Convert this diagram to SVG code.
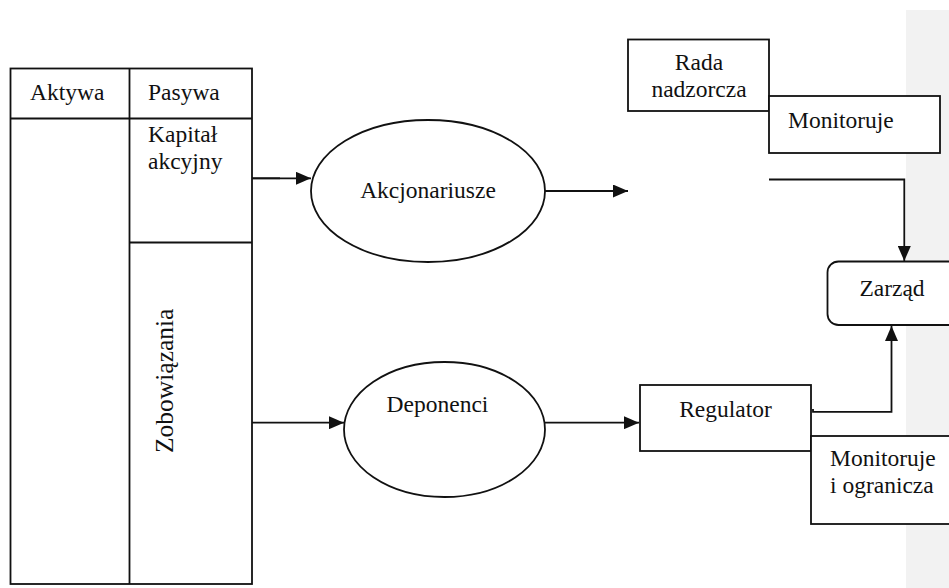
<svg xmlns="http://www.w3.org/2000/svg" width="949" height="588" viewBox="0 0 949 588">
  <style>
    .ln { fill: none; stroke: #111; stroke-width: 1.8; }
    .box { fill: #fff; stroke: #111; stroke-width: 1.8; }
    .t { font-family: "Liberation Serif", "DejaVu Serif", "Times New Roman", serif; font-size: 23.5px; fill: #111; }
    .c { text-anchor: middle; }
  </style>
  <defs>
    <marker id="arr" markerWidth="15" markerHeight="13" refX="15" refY="6.5" orient="auto" markerUnits="userSpaceOnUse">
      <path d="M0,0 L15,6.5 L0,13 Z" fill="#111"/>
    </marker>
  </defs>
  <rect x="0" y="0" width="949" height="588" fill="#fff"/>
  <rect x="906" y="10" width="43" height="578" fill="#f2f2f2"/>

  <g id="bilans">
    <rect class="ln" x="10.5" y="68.5" width="241.5" height="515.5" stroke-width="2"/>
    <line class="ln" x1="129.5" y1="68.5" x2="129.5" y2="584" stroke-width="2"/>
    <line class="ln" x1="10.5" y1="118.5" x2="252" y2="118.5" stroke-width="2"/>
    <line class="ln" x1="129.5" y1="242.5" x2="252" y2="242.5" stroke-width="2"/>
    <text class="t" x="30" y="100" font-family="Liberation Serif, serif">Aktywa</text>
    <text class="t" x="148" y="100" font-family="Liberation Serif, serif">Pasywa</text>
    <text class="t" x="148" y="142" font-family="Liberation Serif, serif">Kapitał</text>
    <text class="t" x="148" y="169" font-family="Liberation Serif, serif">akcyjny</text>
    <text class="t" transform="translate(172.5,453) rotate(-90)" style="font-size:25.5px" font-family="Liberation Serif, serif">Zobowiązania</text>
  </g>

  <g id="akcjonariusze">
    <ellipse class="box" cx="428" cy="191" rx="117" ry="71"/>
    <text class="t c" x="428" y="198" font-family="Liberation Serif, serif">Akcjonariusze</text>
  </g>

  <g id="deponenci">
    <ellipse class="box" cx="444.5" cy="429.5" rx="100.5" ry="67.5"/>
    <text class="t c" x="437.5" y="411.5" font-family="Liberation Serif, serif">Deponenci</text>
  </g>

  <g id="rada">
    <rect class="box" x="628" y="39.5" width="141" height="71.5"/>
    <text class="t c" x="699" y="70" font-family="Liberation Serif, serif">Rada</text>
    <text class="t c" x="699" y="96.5" font-family="Liberation Serif, serif">nadzorcza</text>
  </g>

  <g id="monitoruje1">
    <rect class="box" x="769" y="96" width="171" height="57"/>
    <text class="t" x="788" y="127.5" font-family="Liberation Serif, serif">Monitoruje</text>
  </g>

  <g id="zarzad">
    <rect class="box" x="827.5" y="261.5" width="135" height="63.5" rx="11" ry="11"/>
    <text class="t c" x="892" y="295.5" font-family="Liberation Serif, serif">Zarząd</text>
  </g>

  <g id="regulator">
    <rect class="box" x="640" y="385" width="171" height="66"/>
    <text class="t c" x="725.5" y="416.5" font-family="Liberation Serif, serif">Regulator</text>
  </g>

  <g id="monitoruje2">
    <rect class="box" x="811" y="436" width="150" height="88"/>
    <text class="t" x="830" y="466" font-family="Liberation Serif, serif">Monitoruje</text>
    <text class="t" x="830" y="493" font-family="Liberation Serif, serif">i ogranicza</text>
  </g>

  <g id="connectors">
    <line class="ln" x1="252" y1="178.3" x2="280" y2="178.3" stroke-width="3"/>
    <line class="ln" x1="252" y1="178.3" x2="311" y2="178.3" marker-end="url(#arr)"/>
    <line class="ln" x1="545" y1="191" x2="628" y2="191" marker-end="url(#arr)"/>
    <line class="ln" x1="252" y1="422.7" x2="344" y2="422.7" marker-end="url(#arr)"/>
    <line class="ln" x1="545" y1="422.7" x2="639" y2="422.7" marker-end="url(#arr)"/>
    <polyline class="ln" points="769,179.5 904.3,179.5 904.3,261" marker-end="url(#arr)"/>
    <polyline class="ln" points="813,409 813,411.8 891.5,411.8 891.5,326" marker-end="url(#arr)"/>
  </g>
</svg>
